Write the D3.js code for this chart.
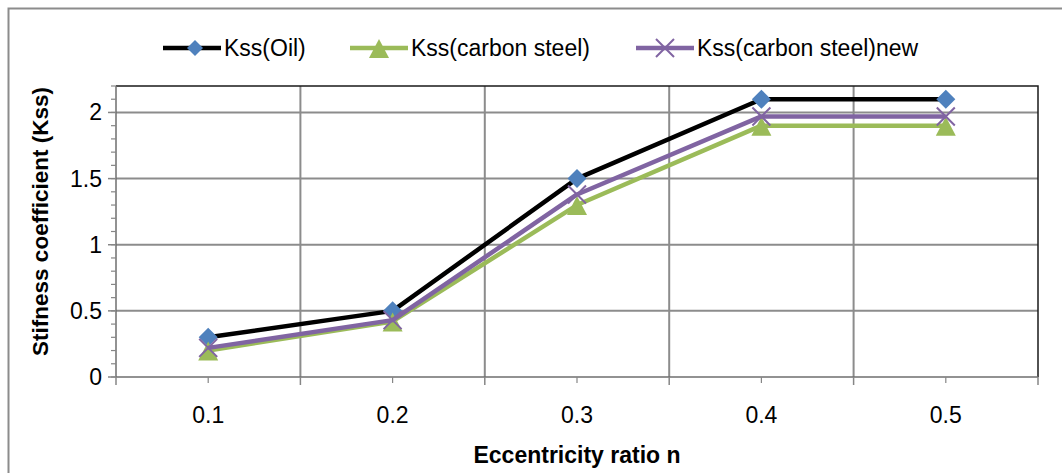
<!DOCTYPE html>
<html><head><meta charset="utf-8">
<script src="https://cdn.jsdelivr.net/npm/d3@7"></script>
<style>body{margin:0;background:#fff;} text{font-family:"Liberation Sans",Arial,sans-serif;}</style>
</head><body>
<svg id="c" width="1062" height="473"></svg>
<script>
const categories = ["0.1","0.2","0.3","0.4","0.5"];
const kssOil = [0.3, 0.5, 1.5, 2.1, 2.1];
const kssCarbon = [0.2, 0.42, 1.3, 1.9, 1.9];
const kssCarbonNew = [0.22, 0.43, 1.38, 1.97, 1.97];
const yTicks = [0, 0.5, 1, 1.5, 2];
const seriesNames = ["Kss(Oil)", "Kss(carbon steel)", "Kss(carbon steel)new"];

const svg = d3.select("#c");
const L = 116, R = 1038, T = 86, B = 377;
const x = d3.scaleBand().domain(categories).range([L, R]).padding(0);
const y = d3.scaleLinear().domain([0, 2.2]).range([B, T]);
const cx = c => x(c) + x.bandwidth() / 2;

// outer chart border
svg.append("rect").attr("x", 8.5).attr("y", 8.5).attr("width", 1070).attr("height", 480)
  .attr("fill", "none").attr("stroke", "#8c8c8c").attr("stroke-width", 2);

// gridlines
const grid = svg.append("g");
grid.selectAll("line.h").data(yTicks.filter(d => d > 0)).join("line")
  .attr("x1", L).attr("x2", R).attr("y1", d => y(d)).attr("y2", d => y(d))
  .attr("stroke", "#8c8c8c").attr("stroke-width", 2);
grid.selectAll("line.v").data(categories.slice(1)).join("line")
  .attr("x1", d => x(d)).attr("x2", d => x(d)).attr("y1", T).attr("y2", B)
  .attr("stroke", "#8c8c8c").attr("stroke-width", 2);

// plot border top/right
svg.append("path").attr("d", `M${L},${T}H${R}V${B}`).attr("fill", "none")
  .attr("stroke", "#1a1a1a").attr("stroke-width", 1.5);

// y axis with minor ticks
const yMinor = d3.range(0, 2.21, 0.1);
const yAx = svg.append("g");
yAx.append("line").attr("x1", L).attr("x2", L).attr("y1", T).attr("y2", B).attr("stroke", "#6e6e6e").attr("stroke-width", 1.5);
yAx.selectAll("line.mi").data(yMinor).join("line")
  .attr("x1", L - 5).attr("x2", L).attr("y1", d => y(d)).attr("y2", d => y(d))
  .attr("stroke", "#868686").attr("stroke-width", 1.2);
yAx.selectAll("line.ma").data(yTicks).join("line")
  .attr("x1", L - 8).attr("x2", L).attr("y1", d => y(d)).attr("y2", d => y(d))
  .attr("stroke", "#868686").attr("stroke-width", 1.5);
yAx.selectAll("text").data(yTicks).join("text")
  .attr("x", L - 14).attr("y", d => y(d) + 8).attr("text-anchor", "end")
  .attr("font-size", 23).attr("fill", "#000").text(d => d3.format("")(d));

// x axis
const xAx = svg.append("g");
xAx.append("line").attr("x1", L).attr("x2", R).attr("y1", B).attr("y2", B).attr("stroke", "#6e6e6e").attr("stroke-width", 1.5);
const bounds = categories.map(c => x(c)).concat([R]);
xAx.selectAll("line.b").data(bounds).join("line")
  .attr("x1", d => d).attr("x2", d => d).attr("y1", B).attr("y2", B + 8)
  .attr("stroke", "#868686").attr("stroke-width", 1.5);
xAx.selectAll("line.c").data(categories).join("line")
  .attr("x1", d => cx(d)).attr("x2", d => cx(d)).attr("y1", B).attr("y2", B + 6)
  .attr("stroke", "#868686").attr("stroke-width", 1.2);
xAx.selectAll("text").data(categories).join("text")
  .attr("x", d => cx(d)).attr("y", 423).attr("text-anchor", "middle")
  .attr("font-size", 23).attr("fill", "#000").text(d => d);

// axis titles
svg.append("text").attr("transform", `translate(48,${(T + B) / 2 - 10}) rotate(-90)`)
  .attr("text-anchor", "middle").attr("font-size", 22.5).attr("font-weight", "bold").text("Stifness coefficient (Kss)");
svg.append("text").attr("x", 577).attr("y", 463).attr("text-anchor", "middle")
  .attr("font-size", 23).attr("font-weight", "bold").text("Eccentricity ratio n");

// markers
function diamond(g, px, py, r) {
  g.append("path").attr("d", `M${px},${py - r}L${px + r},${py}L${px},${py + r}L${px - r},${py}Z`).attr("fill", "#4f81bd");
}
function tri(g, px, py) {
  g.append("path").attr("d", `M${px},${py - 9}L${px + 10},${py + 10}L${px - 10},${py + 10}Z`).attr("fill", "#9bbb59");
}
function cross(g, px, py) {
  const r = 9;
  g.append("path").attr("d", `M${px - r},${py - r}L${px + r},${py + r}M${px - r},${py + r}L${px + r},${py - r}`)
    .attr("stroke", "#8064a2").attr("stroke-width", 2).attr("fill", "none");
}
const series = [
  {vals: kssOil, color: "#000000", marker: (g, a, b) => diamond(g, a, b, 9.5)},
  {vals: kssCarbon, color: "#9bbb59", marker: tri},
  {vals: kssCarbonNew, color: "#8064a2", marker: cross}
];
const line = d3.line().x((d, i) => cx(categories[i])).y(d => y(d));
series.forEach(s => {
  const g = svg.append("g");
  g.append("path").attr("d", line(s.vals)).attr("fill", "none").attr("stroke", s.color)
    .attr("stroke-width", 4.5).attr("stroke-linejoin", "round");
  s.vals.forEach((v, i) => s.marker(g, cx(categories[i]), y(v)));
});

// legend
const legX = [163, 350, 636];
const leg = svg.append("g");
series.forEach((s, i) => {
  const x0 = legX[i];
  leg.append("line").attr("x1", x0).attr("x2", x0 + 58).attr("y1", 48).attr("y2", 48)
    .attr("stroke", s.color).attr("stroke-width", 4.5);
  if (i === 0) diamond(leg, x0 + 32, 48, 8);
  else s.marker(leg, x0 + 29, 48);
  leg.append("text").attr("x", x0 + 61).attr("y", 56).attr("font-size", 23).text(seriesNames[i]);
});
</script>
</body></html>
